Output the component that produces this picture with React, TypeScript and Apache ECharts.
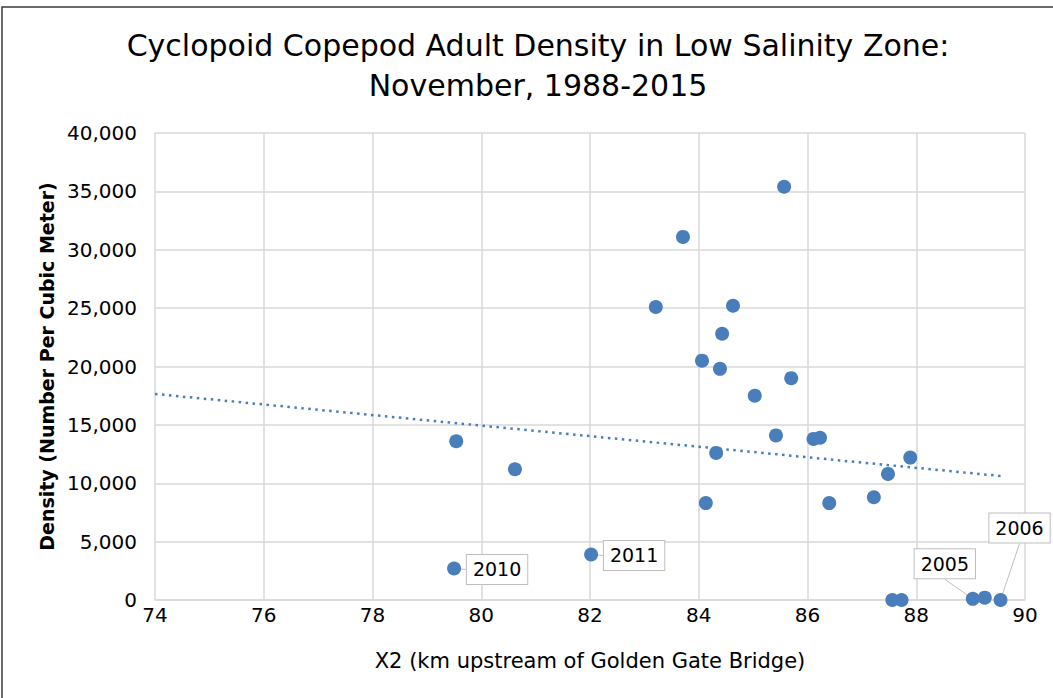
import React, { useEffect, useRef } from "react";
import * as echarts from "echarts";

const xValues = [79.54, 80.62, 79.50, 82.02, 83.21, 83.71, 84.06, 84.13, 84.32, 84.43, 84.39, 84.63, 85.03, 85.42, 85.57, 85.70, 86.11, 86.23, 86.40, 87.22, 87.48, 87.89, 87.56, 87.73, 89.04, 89.26, 89.55];
const yValues = [13600, 11200, 2700, 3900, 25100, 31100, 20500, 8300, 12600, 22800, 19800, 25200, 17500, 14100, 35400, 19000, 13800, 13900, 8300, 8800, 10800, 12200, 0, 0, 100, 200, 0];
const pointLabels = ["", "", "2010", "2011", "", "", "", "", "", "", "", "", "", "", "", "", "", "", "", "", "", "", "", "", "2005", "", "2006"];
// Trendline end points
const trendX = [74, 89.55];
const trendY = [17650, 10620];
const xTicks = { min: 74, max: 90, interval: 2 };
const yTicks = { min: 0, max: 40000, interval: 5000 };
const title = "Cyclopoid Copepod Adult Density in Low Salinity Zone:\nNovember, 1988-2015";
const xName = "X2 (km upstream of Golden Gate Bridge)";
const yName = "Density (Number Per Cubic Meter)";

const labelOffsets: Record<string, [number, number]> = {
  "2010": [43, 1],
  "2011": [43, 1],
  "2005": [-28, -35],
  "2006": [19, -72],
};

export default function App() {
  const ref = useRef<HTMLDivElement>(null);
  useEffect(() => {
    if (!ref.current) return;
    const chart = echarts.init(ref.current, undefined, { renderer: "svg" });
    const font = "'DejaVu Sans', Verdana, sans-serif";
    const trend = trendX.map((x, i) => [x, trendY[i]]);
    const data = xValues.map((x, i) => {
      const lab = pointLabels[i];
      const item: any = { value: [x, yValues[i]], name: lab };
      if (lab) {
        item.label = {
          show: true,
          position: "inside",
          formatter: lab,
          backgroundColor: "#ffffff",
          borderColor: "#bfbfbf",
          borderWidth: 1,
          padding: [6, 6, 4, 6],
          fontSize: 19,
          fontFamily: font,
          color: "#000",
        };
        item.labelLine = { show: true, lineStyle: { color: "#bfbfbf", width: 1 } };
      }
      return item;
    });
    chart.setOption({
      animation: false,
      backgroundColor: "#ffffff",
      textStyle: { fontFamily: font },
      title: {
        text: title,
        left: 533,
        textAlign: "center",
        top: 20,
        textStyle: { fontSize: 30, fontWeight: "normal", color: "#000", lineHeight: 40, fontFamily: font },
      },
      graphic: [
        {
          type: "rect",
          shape: { x: 2, y: 7, width: 1070, height: 720 },
          style: { fill: "none", stroke: "#3a3a3a", lineWidth: 1.5 },
          silent: true,
        },
      ],
      grid: { left: 155, right: 28, top: 133, bottom: 98 },
      xAxis: {
        type: "value",
        min: xTicks.min,
        max: xTicks.max,
        interval: xTicks.interval,
        name: xName,
        nameLocation: "middle",
        nameGap: 50,
        nameTextStyle: { fontSize: 21, color: "#000", fontFamily: font },
        axisLine: { show: true, lineStyle: { color: "#d9d9d9", width: 1.5 } },
        axisTick: { show: false },
        axisLabel: { fontSize: 20, color: "#000", margin: 5, fontFamily: font },
        splitLine: { show: true, lineStyle: { color: "#d9d9d9", width: 1.5 } },
      },
      yAxis: {
        type: "value",
        min: yTicks.min,
        max: yTicks.max,
        interval: yTicks.interval,
        name: yName,
        nameLocation: "middle",
        nameGap: 97,
        nameTextStyle: { fontSize: 19, fontWeight: "bold", color: "#000", fontFamily: font },
        axisLine: { show: false },
        axisTick: { show: false },
        axisLabel: {
          fontSize: 20,
          color: "#000",
          margin: 18,
          fontFamily: font,
          formatter: (v: number) => v.toLocaleString("en-US"),
        },
        splitLine: { show: true, lineStyle: { color: "#d9d9d9", width: 1.5 } },
      },
      series: [
        {
          type: "line",
          data: trend,
          symbol: "none",
          silent: true,
          lineStyle: { color: "#4a7ebb", width: 2.5, type: [2.5, 4.5] },
          z: 1,
        },
        {
          type: "scatter",
          data,
          symbolSize: 14,
          itemStyle: { color: "#4a7ebb", opacity: 1 },
          z: 3,
          labelLayout: (params: any) => {
            const lab = pointLabels[params.dataIndex];
            const off = labelOffsets[lab];
            if (!off) return {};
            return { dx: off[0], dy: off[1] };
          },
        },
      ],
    });
    return () => chart.dispose();
  }, []);
  return (
    <div
      ref={ref}
      style={{ position: "fixed", left: 0, top: 0, width: 1053, height: 698 }}
    />
  );
}
